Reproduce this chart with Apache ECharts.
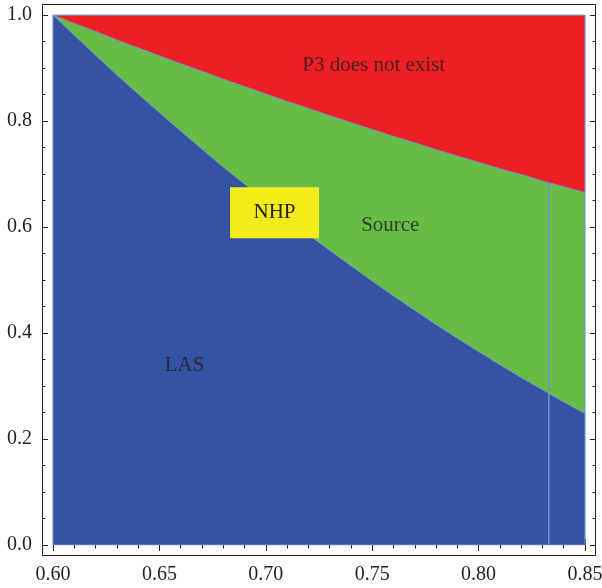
<!DOCTYPE html>
<html>
<head>
<meta charset="utf-8">
<script src="https://cdn.jsdelivr.net/npm/echarts@6/dist/echarts.min.js"></script>
<style>
  html, body { margin: 0; padding: 0; background: #fff; }
  #chart { width: 602px; height: 588px; }
</style>
</head>
<body>
<div id="chart"></div>
<script>
// x samples along the parameter axis
const xs = [0.60, 0.61, 0.62, 0.63, 0.64, 0.65, 0.66, 0.67, 0.68, 0.69, 0.70,
  0.71, 0.72, 0.73, 0.74, 0.75, 0.76, 0.77, 0.78, 0.79, 0.80,
  0.81, 0.82, 0.83, 0.84, 0.85]
// red / green boundary (P3 existence)
const upperCurve = [1.000, 0.984, 0.969, 0.953, 0.938, 0.923, 0.908, 0.894, 0.879, 0.865, 0.851,
  0.837, 0.824, 0.810, 0.797, 0.784, 0.771, 0.759, 0.746, 0.734, 0.722,
  0.710, 0.699, 0.687, 0.676, 0.665]
// green / blue boundary (LAS stability)
const lowerCurve = [1.000, 0.962, 0.924, 0.887, 0.851, 0.816, 0.781, 0.747, 0.713, 0.681, 0.649,
  0.617, 0.586, 0.556, 0.527, 0.498, 0.470, 0.443, 0.416, 0.390, 0.365,
  0.340, 0.316, 0.293, 0.270, 0.248]
const topLine = [1, 1]
const xRange = [0.60, 0.85]
const yRange = [0, 1]
const vLineX = 0.833
const vLineTop = 0.683
// NHP box: x0, y0, x1, y1
const nhpBox = [0.6832, 0.675, 0.725, 0.579]
const regionLabels = [
  { name: 'P3 does not exist', value: [0.7507, 0.905] },
  { name: 'Source', value: [0.7585, 0.603] },
  { name: 'LAS', value: [0.6618, 0.339] },
]

const BLUE = '#3453a3'
const GREEN = '#67bc47'
const RED = '#ed1f24'
const YELLOW = '#f4ec1a'
const EDGE = '#7192cf'
const INK = '#231f20'
const FONT = '"Liberation Serif", "DejaVu Serif", serif'

const chart = echarts.init(document.getElementById('chart'))

const pairs = (ys) => xs.map((x, i) => [x, ys[i]])

const axisCommon = {
  type: 'value',
  offset: 11,
  axisLine: { show: false },
  axisTick: { show: true, inside: true, length: 6, lineStyle: { color: INK, width: 1 } },
  minorTick: { show: true, length: 3.5, lineStyle: { color: INK, width: 1 } },
  splitLine: { show: false },
  minorSplitLine: { show: false },
}

const option = {
  animation: false,
  grid: { left: 53, right: 17, top: 15, bottom: 43, outerBoundsMode: 'none' },
  xAxis: [
    {
      ...axisCommon,
      position: 'bottom',
      min: xRange[0], max: xRange[1], interval: 0.05,
      minorTick: { ...axisCommon.minorTick, splitNumber: 5 },
      axisLabel: {
        margin: 9, color: INK, fontSize: 20, fontFamily: FONT,
        formatter: v => v.toFixed(2)
      },
    },
    {
      ...axisCommon,
      position: 'top',
      min: xRange[0], max: xRange[1], interval: 0.05,
      minorTick: { ...axisCommon.minorTick, splitNumber: 5 },
      axisLabel: { show: false },
    },
  ],
  yAxis: [
    {
      ...axisCommon,
      position: 'left',
      min: yRange[0], max: yRange[1], interval: 0.2,
      minorTick: { ...axisCommon.minorTick, splitNumber: 4 },
      axisLabel: {
        margin: 10, color: INK, fontSize: 20, fontFamily: FONT,
        formatter: v => v.toFixed(1)
      },
    },
    {
      ...axisCommon,
      position: 'right',
      min: yRange[0], max: yRange[1], interval: 0.2,
      minorTick: { ...axisCommon.minorTick, splitNumber: 4 },
      axisLabel: { show: false },
    },
  ],
  graphic: [
    {
      type: 'rect',
      shape: { x: 42.5, y: 4.5, width: 553, height: 551 },
      style: { fill: null, stroke: INK, lineWidth: 1 },
      z: 100,
    },
  ],
  series: [
    {
      name: 'P3 does not exist',
      type: 'line',
      data: xRange.map((x, i) => [x, topLine[i]]),
      showSymbol: false,
      lineStyle: { color: EDGE, width: 1 },
      areaStyle: { color: RED, opacity: 1, origin: 'start' },
      z: 1,
    },
    {
      name: 'Source',
      type: 'line',
      data: pairs(upperCurve),
      showSymbol: false,
      lineStyle: { color: EDGE, width: 1 },
      areaStyle: { color: GREEN, opacity: 1, origin: 'start' },
      z: 2,
    },
    {
      name: 'LAS',
      type: 'line',
      data: pairs(lowerCurve),
      showSymbol: false,
      lineStyle: { color: EDGE, width: 1 },
      areaStyle: { color: BLUE, opacity: 1, origin: 'start' },
      z: 3,
    },
    {
      name: 'border',
      type: 'line',
      data: [[xRange[0], yRange[0]], [xRange[0], yRange[1]], [xRange[1], yRange[1]],
        [xRange[1], yRange[0]], [xRange[0], yRange[0]]],
      showSymbol: false,
      lineStyle: { color: EDGE, width: 1.2 },
      z: 4,
    },
    {
      name: 'vline',
      type: 'line',
      data: [[vLineX, yRange[0]], [vLineX, vLineTop]],
      showSymbol: false,
      lineStyle: { color: EDGE, width: 1.5 },
      z: 4,
    },
    {
      name: 'NHP',
      type: 'custom',
      data: [nhpBox],
      renderItem: (params, api) => {
        const p0 = api.coord([api.value(0), api.value(1)])
        const p1 = api.coord([api.value(2), api.value(3)])
        return {
          type: 'group',
          children: [
            {
              type: 'rect',
              shape: { x: p0[0], y: p0[1], width: p1[0] - p0[0], height: p1[1] - p0[1] },
              style: { fill: YELLOW },
            },
            {
              type: 'text',
              x: (p0[0] + p1[0]) / 2,
              y: (p0[1] + p1[1]) / 2,
              style: {
                text: 'NHP', fill: INK, fontSize: 21, fontFamily: FONT,
                align: 'center', verticalAlign: 'middle'
              },
            },
          ],
        }
      },
      z: 8,
    },
    {
      name: 'labels',
      type: 'scatter',
      data: regionLabels,
      symbolSize: 0,
      label: {
        show: true, position: 'inside', color: INK,
        fontSize: 21, fontFamily: FONT,
        formatter: p => p.name
      },
      z: 10,
    },
  ],
}

chart.setOption(option)
</script>
</body>
</html>
